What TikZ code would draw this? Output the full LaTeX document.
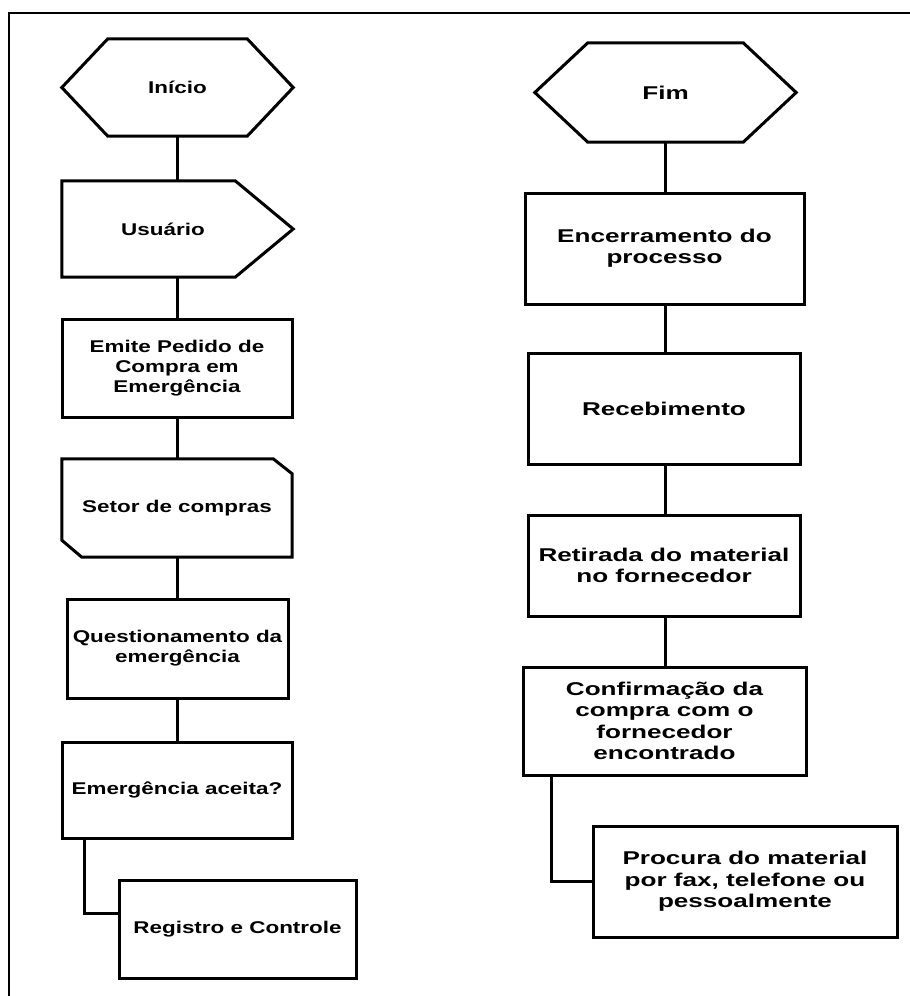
\documentclass[tikz,border=0pt]{standalone}
\usepackage{fontspec}
\newfontfamily\leftfont[FakeStretch=1.32]{Liberation Sans}
\newfontfamily\rightfont[FakeStretch=1.41]{Liberation Sans}
\usetikzlibrary{calc}

\tikzset{
  flow/.style={line width=3pt, line join=miter},
  link/.style={line width=3pt},
  shapebox/.style={inner sep=0pt, align=center, minimum width=#1},
  proc/.style={draw, line width=3pt, rectangle, inner sep=0pt, align=center},
  ltext/.style={font=\leftfont\bfseries\fontsize{17}{20}\selectfont},
  rtext/.style={font=\rightfont\bfseries\fontsize{18.5}{21.3}\selectfont},
}

\begin{document}
\begin{tikzpicture}[x=1pt, y=-1pt]
  \useasboundingbox (0,0) rectangle (910,996);
  % page frame (only the top and left edges fall inside the picture)
  \draw[line width=2pt] (9,1010) -- (9,13) -- (920,13);

  % ---------- left column ----------
  \node[shapebox=231, minimum height=97, ltext] (ini) at (177.5,87.5) {Início};
  \draw[flow] (ini.west) -- ($(ini.north west)+(46,0)$) -- ($(ini.north east)+(-46,0)$)
    -- (ini.east) -- ($(ini.south east)+(-46,0)$) -- ($(ini.south west)+(46,0)$) -- cycle;

  \node[shapebox=202, minimum height=96, ltext] (usu) at (163,229) {Usuário};
  \draw[flow] (usu.north west) -- ($(usu.north east)+(-29,0)$) -- ($(usu.east)+(29,0)$)
    -- ($(usu.south east)+(-29,0)$) -- (usu.south west) -- cycle;

  \node[proc, minimum width=230, minimum height=98, ltext] (emi) at (177,368)
    {Emite Pedido de\\Compra em\\Emergência};

  \node[shapebox=230, minimum height=98, ltext] (set) at (177,508) {Setor de compras};
  \draw[flow] (set.north west) -- ($(set.north east)+(-19,0)$) -- ($(set.north east)+(0,15)$)
    -- (set.south east) -- ($(set.south west)+(20,0)$) -- ($(set.south west)+(0,-17)$) -- cycle;

  \node[proc, minimum width=221, minimum height=99, ltext] (que) at (177.5,648.5)
    {Questionamento da\\emergência};

  \node[proc, minimum width=230, minimum height=96, ltext] (ace) at (177,790)
    {Emergência aceita?};

  \node[proc, minimum width=237, minimum height=98, ltext] (reg) at (237.5,929)
    {Registro e Controle};
  \coordinate (regin) at ($(reg.north west)+(0,35)$);

  \draw[link] (ini.south) -- (ini.south |- usu.north);
  \draw[link] (ini.south |- usu.south) -- (ini.south |- emi.north);
  \draw[link] (emi.south) -- (set.north);
  \draw[link] (set.south) -- (set.south |- que.north);
  \draw[link] (set.south |- que.south) -- (set.south |- ace.north);
  \draw[link, line join=miter] ($(ace.south west)+(24,0)$) |- (regin);

  % ---------- right column ----------
  \node[shapebox=261, minimum height=99, rtext] (fim) at (665.5,92.5) {Fim};
  \draw[flow] (fim.west) -- ($(fim.north west)+(53,0)$) -- ($(fim.north east)+(-53,0)$)
    -- (fim.east) -- ($(fim.south east)+(-53,0)$) -- ($(fim.south west)+(53,0)$) -- cycle;

  \node[proc, minimum width=279, minimum height=111, rtext] (enc) at (664.5,248.5)
    {Encerramento do\\processo};
  \node[proc, minimum width=272, minimum height=111, rtext] (rec) at (664,408.5)
    {Recebimento};
  \node[proc, minimum width=272, minimum height=101, rtext] (ret) at (664,565.5)
    {Retirada do material\\no fornecedor};
  \node[proc, minimum width=283, minimum height=108, rtext] (con) at (664.5,721)
    {Confirmação da\\compra com o\\fornecedor\\encontrado};
  \node[proc, minimum width=304, minimum height=111, rtext] (pro) at (745,881.5)
    {Procura do material\\por fax, telefone ou\\pessoalmente};

  \draw[link] (fim.south) -- (fim.south |- enc.north);
  \draw[link] (fim.south |- enc.south) -- (fim.south |- rec.north);
  \draw[link] (fim.south |- rec.south) -- (fim.south |- ret.north);
  \draw[link] (fim.south |- ret.south) -- (fim.south |- con.north);
  \draw[link, line join=miter] ($(con.south west)+(30,0)$) |- (pro.west);
\end{tikzpicture}
\end{document}
